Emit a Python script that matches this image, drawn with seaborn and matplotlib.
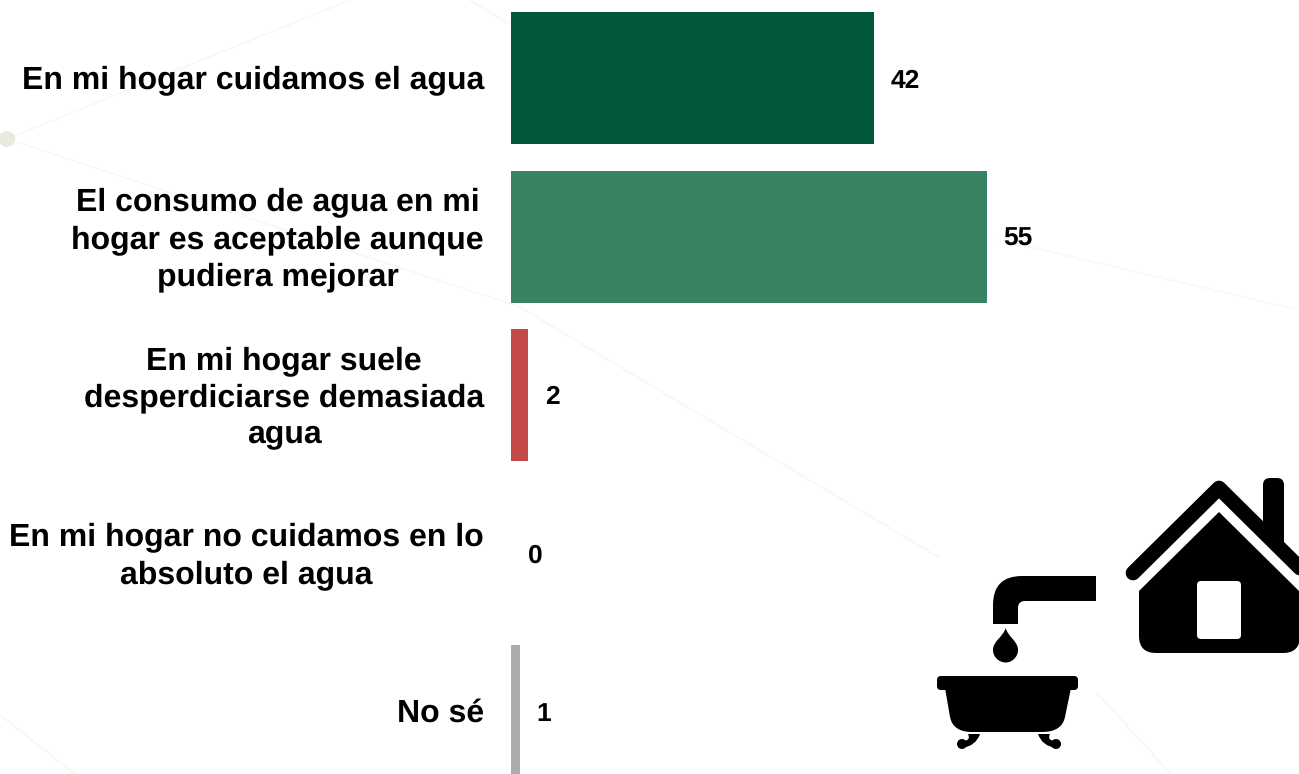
#!/usr/bin/env python3
"""Barras horizontales: percepcion del cuidado del agua en el hogar."""

import matplotlib
matplotlib.use("Agg")
import matplotlib.pyplot as plt
import seaborn as sns
from matplotlib.lines import Line2D
from matplotlib.patches import Circle, FancyBboxPatch, PathPatch
from matplotlib.path import Path
from matplotlib.transforms import ScaledTranslation

labels = [
    "En mi hogar cuidamos el agua",
    "El consumo de agua en mi\nhogar es aceptable aunque\npudiera mejorar",
    "En mi hogar suele\ndesperdiciarse demasiada\nagua",
    "En mi hogar no cuidamos en lo\nabsoluto el agua",
    "No sé",
]
values = [42, 55, 2, 0, 1]
colors = ["#00573C", "#388361", "#C44A4A", "#9E9EA6", "#ADABB0"]

W, H = 1299, 774
PX_PER_UNIT = 8.65
LEFT = 511
ROW_TOP = 78.3
ROW_STEP = 158.25

sns.set_theme(style="white")
plt.rcParams["font.family"] = ["Liberation Sans", "DejaVu Sans"]
plt.rcParams["text.hinting"] = "no_hinting"

fig = plt.figure(figsize=(W / 100, H / 100), dpi=100, facecolor="white")

# capa de fondo y de iconos, en pixeles de la imagen
bg = fig.add_axes([0, 0, 1, 1], zorder=0)
bg.set_xlim(0, W)
bg.set_ylim(H, 0)
bg.axis("off")

for xs, ys in [
    ((7, 350), (139, 0)),
    ((7, 520, 940), (139, 307, 558)),
    ((470, 511), (0, 25)),
    ((1000, 1299), (240, 310)),
    ((0, 75), (715, 774)),
    ((1097, 1170), (693, 773)),
]:
    bg.add_line(Line2D(xs, ys, color="#F7F7F5", lw=1.2))
bg.add_patch(Circle((7, 139), 8, color="#E6EBDD", lw=0, zorder=3))


def shape(verts, codes):
    bg.add_patch(PathPatch(Path(verts, codes), facecolor="black", edgecolor="none"))


M, L, C, B, Z = Path.MOVETO, Path.LINETO, Path.CURVE3, Path.CURVE4, Path.CLOSEPOLY

# casa
bg.add_line(Line2D([1133, 1219, 1310], [573, 488, 578], color="black", lw=10.6,
                   solid_capstyle="round", solid_joinstyle="round"))
shape([(1263, 535), (1263, 485), (1263, 478), (1270, 478), (1277, 478), (1284, 478), (1284, 485),
       (1284, 556), (1263, 535)],
      [M, L, C, C, L, C, C, L, Z])
shape([(1139, 591), (1219, 512), (1300, 592), (1300, 636), (1300, 653), (1283, 653), (1156, 653),
       (1139, 653), (1139, 636), (1139, 591)],
      [M, L, L, L, C, C, L, C, C, Z])
bg.add_patch(FancyBboxPatch((1201, 585), 36, 50, boxstyle="round,pad=4", fc="white", ec="none"))

# grifo
shape([(1096, 576), (1022, 576), (993, 576), (993, 605), (993, 624), (1018, 624), (1018, 608),
       (1018, 601), (1025, 601), (1096, 601), (1096, 576)],
      [M, L, C, C, L, L, L, C, C, L, Z])

# gota
shape([(1005.7, 628), (1008, 637), (1018, 641), (1018, 650), (1018, 657), (1012, 662.5),
       (1005.7, 662.5), (999, 662.5), (993, 657), (993, 650), (993, 641), (1003, 637),
       (1005.7, 628), (1005.7, 628)],
      [M, B, B, B, B, B, B, B, B, B, B, B, B, Z])

# banera
bg.add_patch(FancyBboxPatch((941, 680), 133, 6, boxstyle="round,pad=4", fc="black", ec="none"))
shape([(945, 688), (950, 717), (953, 732), (972, 732), (1042, 732), (1062, 732), (1065, 717),
       (1071, 688), (945, 688)],
      [M, L, C, C, L, C, C, L, Z])
for ball, x0, x1, xm in [((962, 744), 968, 980, 976), ((1056, 744), 1050, 1038, 1042)]:
    bg.add_patch(Circle(ball, 5, color="black", lw=0))
    shape([(x0, 734), (x1, 734), (xm, 746), (ball[0], 748), (ball[0], 741), (x0 + (x1 - x0) * 0.3, 741),
           (x0, 734)],
          [M, L, C, C, L, C, Z])

# barras
ax = fig.add_axes([LEFT / W, 0, 1 - LEFT / W, 1], zorder=1)
ax.patch.set_alpha(0)
sns.barplot(x=values, y=labels, hue=labels, palette=colors, legend=False,
            width=0.834, saturation=1, linewidth=0, ax=ax)
ax.set_xlim(0, (W - LEFT) / PX_PER_UNIT)
ax.set_ylim((H - ROW_TOP) / ROW_STEP, -ROW_TOP / ROW_STEP)
ax.xaxis.set_visible(False)
sns.despine(ax=ax, left=True, bottom=True)
ax.tick_params(axis="y", length=0, pad=19.4)
for tick in ax.get_yticklabels():
    tick.set_fontsize(23.05)
    tick.set_fontweight("bold")
    tick.set_color("black")
    tick.set_multialignment("center")
    tick.set_linespacing(1.31)
    # subir un poco las etiquetas, sobre todo las de varias lineas
    shift = 4 if "\n" in tick.get_text() else 1.5
    tick.set_transform(tick.get_transform() + ScaledTranslation(0, shift / 100, fig.dpi_scale_trans))

for i, value in enumerate(values):
    ax.annotate(str(value), (value, i), xytext=(12, -1.8), textcoords="offset points",
                ha="left", va="center", fontsize=19, fontweight="bold", color="black")

fig.savefig("out.png", dpi=100)
plt.close(fig)
